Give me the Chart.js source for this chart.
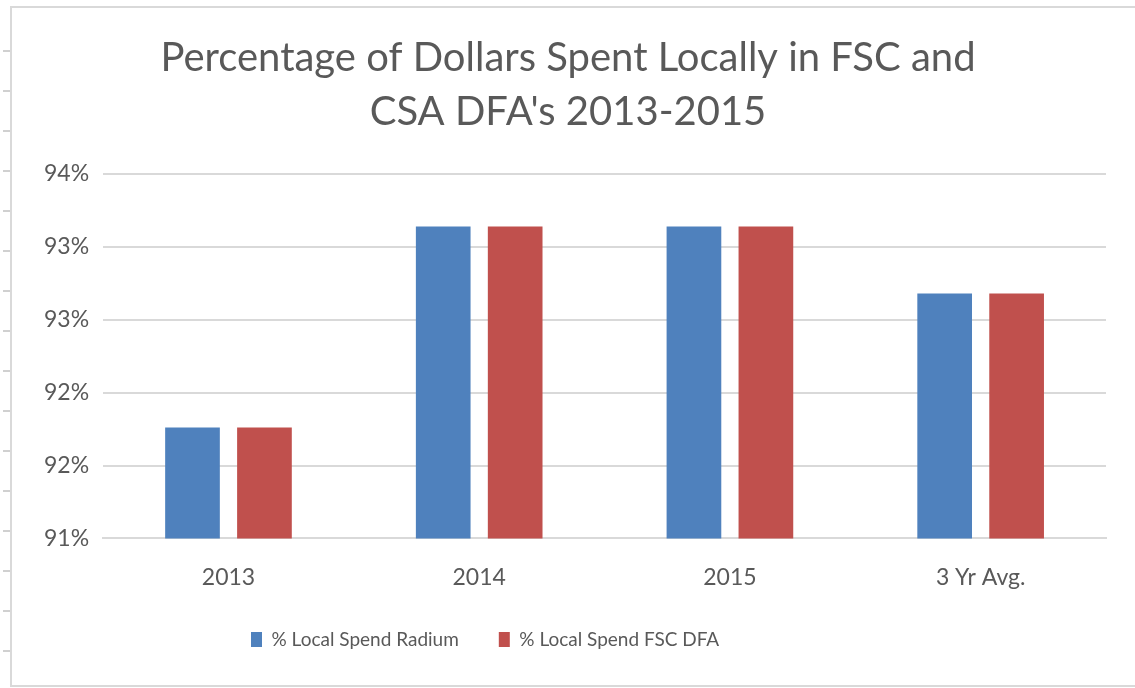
<!DOCTYPE html>
<html>
<head>
<meta charset="utf-8">
<script src="https://cdn.jsdelivr.net/npm/chart.js@4"></script>
<style>
  html, body { margin: 0; padding: 0; background: #fff; }
  body { width: 1135px; height: 688px; position: relative; overflow: hidden; }
  #frame {
    position: absolute; left: 10px; top: 6px; width: 1130px; height: 677px;
    border-left: 2px solid #d9d9d9; border-top: 2px solid #d9d9d9; border-bottom: 2px solid #d9d9d9;
  }
  #ruler {
    position: absolute; left: 3px; top: 12px; width: 8px; height: 670px;
    background: repeating-linear-gradient(to bottom, transparent 0, transparent 38px, #d0d0d0 38px, #d0d0d0 40px);
  }
  #wrap { position: absolute; left: 0; top: 0; width: 1135px; height: 688px; }
</style>
</head>
<body>
<div id="ruler"></div>
<div id="frame"></div>
<div id="wrap"><canvas id="chart"></canvas></div>
<script>
// chart data
const categories  = ['2013', '2014', '2015', '3 Yr Avg.'];
const radiumSpend = [91.76, 93.14, 93.14, 92.68];
const fscSpend    = [91.76, 93.14, 93.14, 92.68];
const seriesNames = ['% Local Spend Radium', '% Local Spend FSC DFA'];
const titleLines  = ['Percentage of Dollars Spent Locally in FSC and', "CSA DFA's 2013-2015"];

const textColor = '#595959';
const gridColor = '#d9d9d9';
const fontFamily = 'Lato, "Open Sans", sans-serif';

// the original legend sits left of centre with wide gaps between items,
// so shrink the legend's reserved height and slide it over after layout
const legendNudge = {
  id: 'legendNudge',
  beforeUpdate(chart) {
    const lg = chart.legend;
    if (lg && !lg._nudged) {
      const fit = lg.fit;
      lg.fit = function () { fit.call(this); this.height -= 26; };
      lg._nudged = true;
    }
  },
  afterLayout(chart) {
    chart.legend.top -= 26;
    chart.legend.left = 211;
  }
};

const ctx = document.getElementById('chart').getContext('2d');
new Chart(ctx, {
  type: 'bar',
  data: {
    labels: categories,
    datasets: [
      { label: seriesNames[0], data: radiumSpend, backgroundColor: '#4f81bd',
        categoryPercentage: 0.574, barPercentage: 0.76 },
      { label: seriesNames[1], data: fscSpend, backgroundColor: '#c0504d',
        categoryPercentage: 0.574, barPercentage: 0.76 }
    ]
  },
  plugins: [legendNudge],
  options: {
    responsive: true, maintainAspectRatio: false, animation: false,
    layout: { padding: { left: 30, right: 29, top: 0, bottom: 29 } },
    plugins: {
      title: {
        display: true, text: titleLines, color: textColor,
        font: { family: fontFamily, size: 40, weight: 'normal', lineHeight: 1.35 },
        padding: { top: 31, bottom: 35 }
      },
      legend: {
        position: 'bottom', align: 'start',
        labels: {
          color: textColor, boxWidth: 11, boxHeight: 15, padding: 40,
          font: { family: fontFamily, size: 19 }
        }
      },
      tooltip: { enabled: false }
    },
    scales: {
      x: {
        grid: { display: false, drawTicks: false },
        border: { color: gridColor, width: 2 },
        ticks: { color: textColor, padding: 25, font: { family: fontFamily, size: 23 } }
      },
      y: {
        min: 91, max: 93.5,
        grid: { color: gridColor, lineWidth: 2, drawTicks: false },
        border: { display: false },
        ticks: {
          stepSize: 0.5, color: textColor, padding: 14,
          font: { family: fontFamily, size: 23 },
          callback: v => Math.round(v) + '%'
        }
      }
    }
  }
});
</script>
</body>
</html>
